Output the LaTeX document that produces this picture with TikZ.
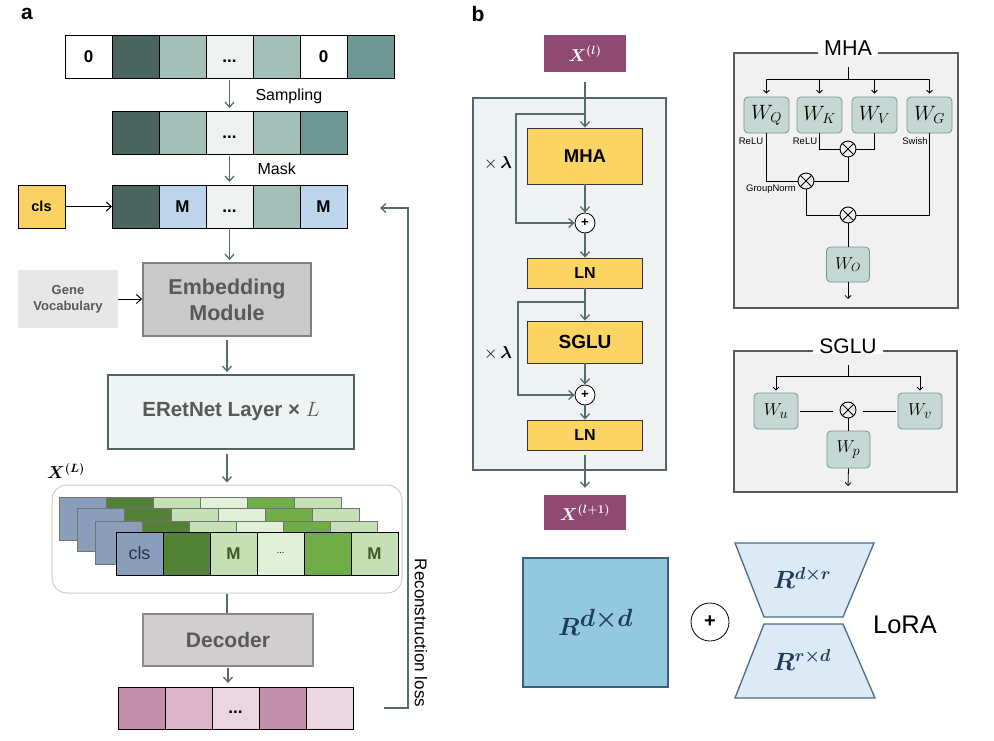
\documentclass[tikz,border=0pt]{standalone}
\usepackage{fontspec}
\setmainfont{Liberation Sans}
\usepackage{amsmath}
\usepackage{bm}
\usetikzlibrary{arrows.meta,calc}
\newcommand{\fsz}[2]{\fontsize{#1}{#2}\selectfont}
\newcommand{\celldots}{\vphantom{0}...}
\definecolor{cdark}{HTML}{4B6661}
\definecolor{clight}{HTML}{A3BFB8}
\definecolor{cvlight}{HTML}{EEF1F0}
\definecolor{cmid}{HTML}{6F9793}
\definecolor{mblue}{HTML}{BDD6EC}
\definecolor{clsy}{HTML}{FAD264}
\definecolor{embfill}{HTML}{C9C9C9}
\definecolor{embdraw}{HTML}{808080}
\definecolor{txtgray}{HTML}{595959}
\definecolor{genefill}{HTML}{E7E7E7}
\definecolor{ernfill}{HTML}{EEF4F3}
\definecolor{erndraw}{HTML}{51625F}
\definecolor{sblue}{HTML}{8A9EBB}
\definecolor{sdg}{HTML}{538135}
\definecolor{slg}{HTML}{C5E0B4}
\definecolor{svlg}{HTML}{E2EFD9}
\definecolor{smg}{HTML}{70AD47}
\definecolor{mtxt}{HTML}{3B5A2C}
\definecolor{clstxt}{HTML}{2B3648}
\definecolor{decfill}{HTML}{D0CECE}
\definecolor{decdraw}{HTML}{8A8A8A}
\definecolor{pk1}{HTML}{C48FAA}
\definecolor{pk2}{HTML}{DCB6CA}
\definecolor{pk3}{HTML}{EBD5E1}
\definecolor{arrc}{HTML}{566C68}
\definecolor{xpurp}{HTML}{8E4A70}
\definecolor{yel}{HTML}{FCD464}
\definecolor{outfill}{HTML}{EEF2F3}
\definecolor{outdraw}{HTML}{53656A}
\definecolor{panfill}{HTML}{F1F1F1}
\definecolor{pandraw}{HTML}{5A5A5A}
\definecolor{wfill}{HTML}{C5D8D4}
\definecolor{wdraw}{HTML}{7A9690}
\definecolor{rsq}{HTML}{93C9DC}
\definecolor{rsqd}{HTML}{3C5F80}
\definecolor{trap}{HTML}{DBEAF4}
\definecolor{trapd}{HTML}{4A6B8A}
\definecolor{rtxt}{HTML}{1F3A5F}
\begin{document}
\begin{tikzpicture}[x=1pt,y=-1pt,
  cell/.style={draw=black, line width=0.9pt, minimum width=47pt, minimum height=43pt, inner sep=0pt, outer sep=0pt, anchor=north west, font=\fsz{17}{17}\bfseries},
  scell/.style={draw=black!55, line width=0.6pt, minimum width=47pt, minimum height=43pt, inner sep=0pt, anchor=north west},
  arr/.style={draw=arrc, line width=1.3pt, -{Straight Barb[length=5pt,width=9pt]}},
  lnk/.style={draw=arrc, line width=1.3pt},
  barr/.style={draw=black, line width=1pt, -{Straight Barb[length=5pt,width=9pt]}},
  yb/.style={draw=black!80, fill=yel, line width=0.9pt, minimum width=115pt, inner sep=0pt, font=\bfseries},
  wb/.style={draw=wdraw, fill=wfill, rounded corners=4pt, line width=0.8pt, minimum width=45pt, minimum height=36pt, inner sep=0pt, font=\fsz{20}{20}},
  ot/.style={circle, draw=black, line width=0.9pt, minimum size=16pt, inner sep=0pt, fill=panfill,
    path picture={\draw[line width=0.9pt] (path picture bounding box.south west) -- (path picture bounding box.north east) (path picture bounding box.north west) -- (path picture bounding box.south east);}},
  sarr/.style={draw=black, line width=0.8pt, -{Straight Barb[length=3pt,width=6pt]}},
  wl/.style={draw=black, line width=0.8pt},
  pl/.style={circle, draw=black, line width=0.8pt, fill=white, minimum size=20pt, inner sep=0pt, font=\fsz{13}{13}\bfseries},
  small/.style={font=\fsz{9.5}{10}}
]
\useasboundingbox (0,0) rectangle (994,740);

% ---------------- panel a ----------------
\node[font=\fsz{21}{21}\bfseries] (la) at (27,14) {a};

\foreach \col/\t [count=\i from 0] in {white/0, cdark/{}, clight/{}, cvlight/\celldots, clight/{}, white/0, cmid/{}}
  \node[cell, fill=\col] (ra\i) at ({65+47*\i},35) {\t};
\foreach \col/\t [count=\i from 0] in {cdark/{}, clight/{}, cvlight/\celldots, clight/{}, cmid/{}}
  \node[cell, fill=\col] (rb\i) at ({112+47*\i},111) {\t};
\foreach \col/\t [count=\i from 0] in {cdark/{}, mblue/M, cvlight/\celldots, clight/{}, mblue/M}
  \node[cell, fill=\col] (rc\i) at ({112+47*\i},185) {\t};
\node[cell, fill=clsy, font=\fsz{14.5}{15}\bfseries] (cls) at (18,185) {cls};

\node[font=\fsz{16}{16}, anchor=west] (samp) at (252,96) {Sampling};
\node[font=\fsz{16}{16}, anchor=west] (mask) at (254,169) {Mask};

\draw[arr, shorten <=2pt, shorten >=3pt] (ra3.south) -- (rb2.north);
\draw[arr, shorten <=2pt, shorten >=3pt] (rb2.south) -- (rc2.north);
\draw[barr] (cls.east) -- (rc0.west);

\node[draw=embdraw, fill=embfill, line width=1.8pt, minimum width=168pt, minimum height=73pt, font=\fsz{21.5}{26}\bfseries, text=txtgray, align=center] (emb) at (227,299.5) {Embedding\\Module};
\node[fill=genefill, minimum width=100pt, minimum height=58pt, font=\fsz{13}{16}\bfseries, text=txtgray, align=center] (gene) at (68,299) {Gene\\Vocabulary};
\draw[barr] (gene.east) -- (gene.east -| emb.west);
\draw[arr, shorten >=2pt] (rc2.south) -- (rc2.south |- emb.north);

\node[draw=erndraw, fill=ernfill, line width=1.8pt, minimum width=246pt, minimum height=74pt, font=\fsz{20.5}{22}\bfseries, text=txtgray] (ern) at (231,412) {ERetNet Layer × $L$};
\draw[arr, shorten <=3pt, shorten >=2pt] (emb.south) -- (emb.south |- ern.north);

\node[draw=black!20, line width=1pt, rounded corners=15pt, fill=white, minimum width=350pt, minimum height=108pt] (rbox) at (227,539) {};
\draw[arr, shorten <=4pt, shorten >=2pt] (emb.south |- ern.south) -- (emb.south |- rbox.north);
\node[font=\fsz{18}{18}] (xL) at (66,471) {$\bm{X^{(L)}}$};

\foreach \ox/\oy [count=\k] in {-57/-35,-39/-24,-21/-11}{
  \foreach \col [count=\i from 0] in {sblue,sdg,slg,svlg,smg,slg}{
    \node[scell, fill=\col] (s\k-\i) at ({116+\ox+47*\i},{532+\oy}) {};
  }
}
\node[cell, fill=sblue, font=\fsz{18}{18}, text=clstxt] (f0) at (116,532) {cls};
\node[cell, fill=sdg] (f1) at (163,532) {};
\node[cell, fill=slg, text=mtxt] (f2) at (210,532) {M};
\node[cell, fill=svlg, font=\fsz{9}{9}] (f3) at (257,532) {...};
\node[cell, fill=smg] (f4) at (304,532) {};
\node[cell, fill=slg, text=mtxt] (f5) at (351,532) {M};

\node[draw=decdraw, fill=decfill, line width=1.8pt, minimum width=170pt, minimum height=52pt, font=\fsz{21}{21}\bfseries, text=txtgray] (dec) at (228,640) {Decoder};
\draw[lnk] (rbox.south) -- (rbox.south |- dec.north);

\foreach \col/\t [count=\i from 0] in {pk1/{}, pk2/{}, pk3/\celldots, pk1/{}, pk3/{}}
  \node[cell, fill=\col, minimum height=42pt] (rd\i) at ({118+47*\i},687) {\t};
\draw[arr, shorten <=1pt, shorten >=4pt] (dec.south) -- (dec.south |- rd0.north);

\coordinate (fbs) at (384,708);
\coordinate (fbc1) at (408,708);
\coordinate (fbc2) at (408,208);
\coordinate (fbe) at (380,208);
\draw[arr] (fbs) -- (fbc1) -- (fbc2) -- (fbe);
\node[rotate=-90, font=\fsz{17}{17}] (rl) at (421,633) {Reconstruction loss};

% ---------------- panel b ----------------
\node[font=\fsz{21}{21}\bfseries] (lb) at (478,14) {b};

\node[draw=outdraw, fill=outfill, line width=1.8pt, minimum width=193pt, minimum height=372pt] (outer) at (569.5,284) {};
\node[fill=xpurp, minimum width=82pt, minimum height=37pt, text=white, font=\fsz{18}{18}] (xin) at (585,53.5) {$\bm{X^{(l)}}$};
\node[fill=xpurp, minimum width=82pt, minimum height=35pt, text=white, font=\fsz{18}{18}] (xout) at (585,512.5) {$\bm{X^{(l+1)}}$};

\node[yb, minimum height=56pt, font=\fsz{18.5}{19}\bfseries] (mha) at (585,156) {MHA};
\node[yb, minimum height=30pt, font=\fsz{16}{16}\bfseries] (ln1) at (585,273) {LN};
\node[yb, minimum height=42pt, font=\fsz{19}{19}\bfseries] (sglu) at (585,342) {SGLU};
\node[yb, minimum height=30pt, font=\fsz{16}{16}\bfseries] (ln2) at (585,435) {LN};
\node[pl] (p1) at (585,223) {+};
\node[pl] (p2) at (585,395) {+};

\draw[arr, shorten <=10pt] (xin.south) -- (mha.north);
\coordinate (b1) at (585,114);
\coordinate (b1d) at (516,223);
\draw[arr] (b1) -| (b1d) -- (p1);
\draw[arr] (mha.south) -- (p1.north);
\draw[arr] (p1.south) -- (ln1.north);
\draw[arr] (ln1.south) -- (sglu.north);
\coordinate (b2) at (585,302);
\coordinate (b2d) at (518,395);
\draw[arr] (b2) -| (b2d) -- (p2);
\draw[arr] (sglu.south) -- (p2.north);
\draw[arr] (p2.south) -- (ln2.north);
\draw[arr, shorten <=5pt, shorten >=7pt] (ln2.south) -- (xout.north);
\node[font=\fsz{16}{16}] (lam1) at (498,163) {$\times\,\bm{\lambda}$};
\node[font=\fsz{16}{16}] (lam2) at (498,353) {$\times\,\bm{\lambda}$};

% MHA detail
\node[draw=pandraw, fill=panfill, line width=1.8pt, minimum width=224pt, minimum height=255pt] (mhap) at (846,180.5) {};
\node[fill=white, inner xsep=6pt, inner ysep=1pt, font=\fsz{21.5}{22}] (mhat) at (848,48) {MHA};
\node[wb] (WQ) at (766.5,115) {$W_Q$};
\node[wb] (WK) at (819.5,115) {$W_K$};
\node[wb] (WV) at (874.5,115) {$W_V$};
\node[wb] (WG) at (929.5,115) {$W_G$};
\node[wb, minimum width=43pt, minimum height=35pt, font=\fsz{17}{17}] (WO) at (848,264.5) {$W_O$};
\coordinate (mtop) at (848,67);
\coordinate (mbar) at (848,79);
\draw[wl] (mtop) -- (mbar);
\draw[wl] (WQ.north |- mbar) -- (WG.north |- mbar);
\foreach \w in {WQ,WK,WV,WG} \draw[sarr, shorten >=3pt] (\w.north |- mbar) -- (\w.north);
\node[ot] (ot1) at (848,149) {};
\node[ot] (ot2) at (806,181) {};
\node[ot] (ot3) at (848,215) {};
\draw[wl] (WK.south) |- (ot1);
\draw[wl] (WV.south) |- (ot1);
\draw[wl] (ot1) |- (ot2);
\draw[wl] (WQ.south) |- (ot2);
\draw[wl] (ot2) |- (ot3);
\draw[wl] (WG.south) |- (ot3);
\draw[wl] (ot3) -- (WO);
\coordinate (mout) at (848,299);
\draw[sarr] (WO.south) -- (mout);
\node[small] (relu1) at (751,141) {ReLU};
\node[small] (relu2) at (805,141) {ReLU};
\node[small] (swish) at (915,141) {Swish};
\node[small] (gnorm) at (771,189) {GroupNorm};

% SGLU detail
\node[draw=pandraw, fill=panfill, line width=1.8pt, minimum width=223pt, minimum height=141pt] (sglup) at (845.5,421.5) {};
\node[fill=white, inner xsep=6pt, inner ysep=1pt, font=\fsz{21}{22}] (sglut) at (848,346) {SGLU};
\node[wb, minimum width=44pt, font=\fsz{19}{19}] (Wu) at (776,411) {$W_u$};
\node[wb, minimum width=44pt, font=\fsz{19}{19}] (Wv) at (920,411) {$W_v$};
\node[wb, minimum width=43pt, minimum height=37pt, font=\fsz{19}{19}] (Wp) at (848.5,449.5) {$W_p$};
\node[ot] (ot4) at (848,410) {};
\coordinate (stop) at (848,365);
\coordinate (sbar) at (848,376);
\draw[wl] (stop) -- (sbar);
\draw[wl] (Wu.north |- sbar) -- (Wv.north |- sbar);
\draw[sarr, shorten >=2pt] (Wu.north |- sbar) -- (Wu.north);
\draw[sarr, shorten >=2pt] (Wv.north |- sbar) -- (Wv.north);
\draw[wl, shorten <=2pt, shorten >=7pt] (Wu.east) -- (Wu.east -| ot4.west);
\draw[wl, shorten <=2pt, shorten >=7pt] (Wv.west) -- (Wv.west -| ot4.east);
\draw[wl] (ot4) -- (ot4 |- Wp.north);
\coordinate (sout) at (848,486);
\draw[sarr] (Wp.south) -- (sout);

% LoRA
\node[draw=rsqd, fill=rsq, line width=1.8pt, minimum width=145pt, minimum height=129pt, font=\fsz{34}{34}, text=rtxt] (rdd) at (595.5,622.5) {$\bm{R^{d\times d}}$};
\node[circle, draw=black, line width=0.8pt, minimum size=38pt, inner sep=0pt, font=\fsz{20}{20}\bfseries] (lp) at (710,622) {+};
\draw[draw=trapd, fill=trap, line width=1.3pt] (735,543) -- (874,543) -- (843,617) -- (764,617) -- cycle;
\draw[draw=trapd, fill=trap, line width=1.3pt] (764,624) -- (843,624) -- (875,698) -- (735,698) -- cycle;
\node[font=\fsz{24}{24}, text=rtxt] (tdr) at (802,578) {$\bm{R^{d\times r}}$};
\node[font=\fsz{24}{24}, text=rtxt] (trd) at (802,660) {$\bm{R^{r\times d}}$};
\node[font=\fsz{25.5}{26}] (lora) at (905,625) {LoRA};
\end{tikzpicture}
\end{document}
